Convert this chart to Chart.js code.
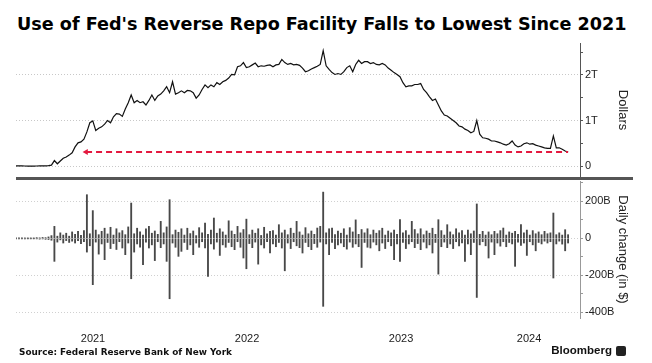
<!DOCTYPE html>
<html>
<head>
<meta charset="utf-8">
<script src="https://cdn.jsdelivr.net/npm/chart.js@4.4.1/dist/chart.umd.min.js"></script>
<style>
  body { margin: 0; background: #fff; width: 652px; height: 363px; position: relative; overflow: hidden; }
  #title { position: absolute; left: 17px; top: 14px; font: bold 17.6px 'DejaVu Sans', sans-serif; line-height: 20px; color: #000; white-space: nowrap; }
  #topChart { position: absolute; left: 0; top: 37px; }
  #bottomChart { position: absolute; left: 0; top: 179px; }
  #sep { position: absolute; left: 16px; top: 177px; width: 617px; height: 3px; background: #555; }
  #source { position: absolute; left: 19px; top: 346px; font: bold 8.9px 'DejaVu Sans', sans-serif; line-height: 12px; color: #111; white-space: nowrap; }
  #logo { position: absolute; right: 40px; top: 343px; font: bold 11.5px 'Liberation Sans', sans-serif; line-height: 14px; color: #111; }
  #icon { position: absolute; left: 616px; top: 346px; width: 10px; height: 10px; background: #222; border-radius: 2px; }
</style>
</head>
<body>
<div id="title">Use of Fed's Reverse Repo Facility Falls to Lowest Since 2021</div>
<canvas id="topChart" width="652" height="142"></canvas>
<canvas id="bottomChart" width="652" height="170"></canvas>
<div id="sep"></div>
<div id="source">Source: Federal Reserve Bank of New York</div>
<div id="logo">Bloomberg</div>
<div id="icon"></div>
<script>
// weekly readings, first week 2021-01-01, values in $ billions
const firstWeek = '2021-01-01';

const repoLevel = [
  4, 3, 2, 1, 0, 0, 0, 1, 2, 3,
  5, 8, 20, 120, 50, 110, 170, 200, 240, 290,
  420, 510, 530, 590, 750, 950, 990, 780, 830, 860,
  920, 1000, 950, 1080, 1150, 1140, 1090, 1250, 1390, 1560,
  1390, 1440, 1390, 1410, 1340, 1440, 1560, 1440, 1540, 1580,
  1650, 1740, 1610, 1850, 1580, 1610, 1650, 1610, 1660, 1650,
  1610, 1490, 1560, 1680, 1780, 1720, 1780, 1740, 1830, 1790,
  1850, 1880, 1930, 2010, 2000, 2180, 2200, 2270, 2160, 2180,
  2220, 2260, 2180, 2200, 2190, 2210, 2220, 2180, 2220, 2230,
  2340, 2270, 2230, 2250, 2220, 2230, 2210, 2150, 2070, 2090,
  2130, 2160, 2190, 2230, 2530, 2200, 2120, 2050, 2010, 2030,
  2010, 2070, 2160, 2200, 2070, 2230, 2320, 2250, 2290, 2290,
  2250, 2270, 2230, 2220, 2250, 2220, 2150, 2100, 2050, 2010,
  1960, 1830, 1740, 1760, 1760, 1790, 1790, 1810, 1680, 1610,
  1520, 1440, 1470, 1340, 1210, 1120, 1100, 1050, 1000, 950,
  880, 860, 810, 780, 730, 760, 1000, 700, 620, 610,
  590, 550, 550, 530, 510, 480, 460, 490, 550, 460,
  420, 440, 490, 510, 480, 490, 460, 440, 420, 400,
  390, 390, 660, 400, 400, 370, 330, 305
];

// largest daily rise / fall seen within each week
const changeUp = [
  2, 1, 3, 1, 2, 1, 2, 4, 3, 5,
  4, 8, 15, 65, 12, 30, 18, 28, 12, 35,
  22, 38, 16, 42, 236, 25, 150, 45, 20, 38,
  55, 24, 60, 18, 52, 30, 42, 20, 62, 191,
  25, 55, 35, 18, 52, 65, 28, 40, 22, 92,
  30, 62, 209, 20, 45, 33, 52, 18, 55, 26,
  40, 15, 58, 30, 83, 22, 45, 110, 28, 52,
  35, 18, 95, 40, 22, 65, 30, 48, 104, 20,
  45, 28, 52, 16, 60, 25, 38, 42, 18, 74,
  30, 45, 20, 55, 28, 92, 35, 18, 58, 25,
  40, 22, 56, 65, 250, 30, 52, 56, 20, 40,
  28, 52, 18, 58, 35, 100, 22, 48, 30, 52,
  20, 45, 28, 42, 55, 18, 40, 30, 45, 22,
  101, 30, 42, 18, 92, 48, 25, 52, 20, 40,
  28, 55, 22, 101, 42, 18, 74, 35, 20, 52,
  30, 42, 18, 45, 25, 40, 186, 22, 38, 18,
  35, 20, 38, 25, 42, 56, 18, 35, 28, 38,
  22, 74, 30, 45, 18, 42, 25, 35, 20, 38,
  25, 30, 137, 20, 30, 18, 47, 20
];

const changeDown = [
  -1, -2, -1, -3, -1, -2, -1, -2, -4, -3,
  -5, -6, -10, -124, -20, -8, -25, -12, -22, -15,
  -25, -12, -28, -18, -74, -40, -250, -20, -85, -30,
  -115, -22, -55, -28, -60, -18, -52, -88, -25, -218,
  -74, -30, -48, -142, -20, -52, -35, -120, -18, -50,
  -30, -124, -326, -25, -48, -97, -70, -22, -60, -35,
  -88, -25, -48, -18, -52, -205, -30, -58, -20, -92,
  -35, -48, -22, -45, -61, -18, -48, -106, -164, -28,
  -50, -20, -139, -35, -52, -18, -79, -30, -45, -22,
  -52, -175, -25, -55, -18, -40, -50, -79, -22, -45,
  -61, -28, -48, -20, -367, -30, -88, -22, -55, -35,
  -25, -45, -58, -20, -48, -30, -45, -157, -22, -48,
  -52, -20, -35, -67, -25, -55, -18, -40, -115, -30,
  -124, -22, -55, -30, -18, -50, -28, -61, -20, -52,
  -35, -79, -22, -193, -45, -20, -50, -30, -55, -18,
  -40, -25, -124, -30, -88, -22, -319, -35, -18, -40,
  -106, -20, -88, -25, -42, -18, -45, -22, -30, -151,
  -20, -38, -25, -92, -18, -35, -67, -22, -30, -15,
  -25, -18, -214, -30, -15, -31, -67, -25
];

// red dashed reference: today's level, back to when it was last seen
const refLevel = 310;
const refFrom = '2021-06-16';

const yearLabels = ['2021', '2022', '2023', '2024'];
const levelTicks = [0, 500, 1000, 1500, 2000, 2500];
const changeTicks = [-400, -300, -200, -100, 0, 100, 200, 300];

function decYear(d) {
  const y = d.getUTCFullYear();
  const a = Date.UTC(y, 0, 1), b = Date.UTC(y + 1, 0, 1);
  return y + (d.getTime() - a) / (b - a);
}

const start = new Date(firstWeek + 'T00:00:00Z');
const weekX = repoLevel.map((_, i) => decYear(new Date(start.getTime() + i * 7 * 86400000)));

const xMin = 2021, xMax = 2024.662;
const font = 'Liberation Sans';

const rightAxis = (ticks, label, title, gridCol, borderCol) => ({
  position: 'right',
  afterBuildTicks: s => { s.ticks = ticks.map(v => ({ value: v })); },
  afterFit: s => { s.width = 50; s.paddingTop = 0; s.paddingBottom = 0; },
  ticks: { autoSkip: false, padding: 2, color: '#222', font: { family: font, size: 11 }, callback: label },
  grid: {
    color: c => (c.tick && label(c.tick.value) !== '') ? gridCol : 'rgba(0,0,0,0)',
    tickColor: borderCol, tickLength: 3, lineWidth: 1
  },
  border: { color: borderCol, width: 1, dash: [1, 2] },
  title: { display: true, text: title, color: '#222', font: { family: font, size: 13 }, padding: 0 }
});

new Chart(document.getElementById('topChart'), {
  type: 'line',
  data: {
    datasets: [
      {
        data: [{ x: decYear(new Date(refFrom + 'T00:00:00Z')), y: refLevel }, { x: weekX[weekX.length - 1], y: refLevel }],
        borderColor: '#e3193f', borderWidth: 2, borderDash: [6, 4],
        pointRadius: [3.5, 0], pointStyle: 'triangle', rotation: 270,
        pointBackgroundColor: '#e3193f', pointBorderWidth: 0
      },
      {
        data: weekX.map((x, i) => ({ x, y: repoLevel[i] })),
        borderColor: '#111', borderWidth: 1.2, pointRadius: 0, tension: 0
      }
    ]
  },
  options: {
    responsive: false, animation: false,
    layout: { autoPadding: false, padding: { left: 16, right: 22, top: 6, bottom: 2 } },
    plugins: { legend: { display: false }, tooltip: { enabled: false } },
    scales: {
      x: { type: 'linear', min: xMin, max: xMax, display: false },
      y: Object.assign(rightAxis(levelTicks,
        v => v === 0 ? '0' : (v % 1000 === 0 ? (v / 1000) + 'T' : ''),
        'Dollars', '#c8c8c8', '#555'), { min: -240, max: 2700 })
    }
  }
});

new Chart(document.getElementById('bottomChart'), {
  type: 'bar',
  data: {
    datasets: [
      { data: weekX.map((x, i) => ({ x, y: changeUp[i] })), backgroundColor: '#484848', barThickness: 1.2, grouped: false },
      { data: weekX.map((x, i) => ({ x, y: changeDown[i] })), backgroundColor: '#484848', barThickness: 1.2, grouped: false }
    ]
  },
  options: {
    responsive: false, animation: false,
    layout: { autoPadding: false, padding: { left: 16, right: 22, top: 2, bottom: 0 } },
    plugins: { legend: { display: false }, tooltip: { enabled: false } },
    scales: {
      x: {
        type: 'linear', min: xMin, max: xMax, offset: false,
        grid: { display: false, drawTicks: false }, border: { display: false },
        afterBuildTicks: s => {
          // each year label sits in the middle of the visible part of that year
          s.ticks = yearLabels.map(y => {
            const a = Math.max(+y, xMin), b = Math.min(+y + 1, xMax);
            return { value: (a + b) / 2 };
          });
        },
        afterFit: s => { s.height = 31; },
        ticks: { autoSkip: false, maxRotation: 0, padding: 14, color: '#222', font: { family: font, size: 11 },
          callback: (v, i) => yearLabels[i] }
      },
      y: Object.assign(rightAxis(changeTicks,
        v => v === 0 ? '0' : (v % 200 === 0 ? v + 'B' : ''),
        'Daily change (in $)', '#d0d0d0', '#999'), { min: -430, max: 310 })
    }
  }
});
</script>
</body>
</html>
